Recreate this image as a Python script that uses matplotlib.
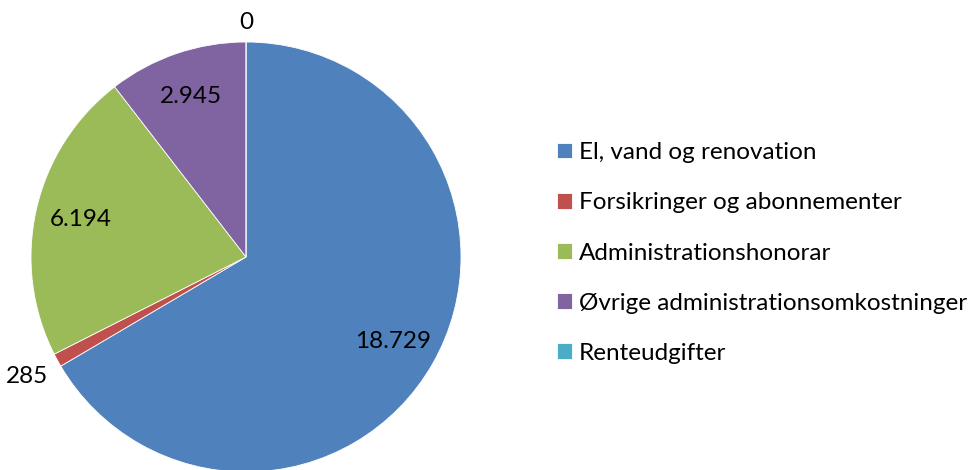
import numpy as np
import matplotlib.pyplot as plt

categories = ["El, vand og renovation", "Forsikringer og abonnementer",
              "Administrationshonorar", "Øvrige administrationsomkostninger",
              "Renteudgifter"]
values = [18729, 285, 6194, 2945, 0]
value_labels = ["18.729", "285", "6.194", "2.945", "0"]
colors = ["#4F81BD", "#C0504D", "#9BBB59", "#8064A2", "#4BACC6"]

plt.rcParams["font.family"] = ["Lato", "DejaVu Sans"]
fs = 17.5

fig = plt.figure(figsize=(9.79, 4.70), dpi=100)
ax = fig.add_axes([31 / 979, -2 / 470, 430 / 979, 430 / 470])

wedges, _ = ax.pie(values, colors=colors, startangle=90, counterclock=False,
                   radius=1.0, wedgeprops=dict(edgecolor="white", linewidth=0.6))
ax.set_xlim(-1, 1)
ax.set_ylim(-1, 1)
ax.set_aspect("equal")

# data labels: inside for big slices, outside for small ones
for w, lab, v in zip(wedges, value_labels, values):
    mid = np.deg2rad((w.theta1 + w.theta2) / 2)
    if v / sum(values) > 0.05:
        r = 0.79
    elif v == 0:
        r = 1.09
    else:
        r = 1.16
    ax.text(r * np.cos(mid), r * np.sin(mid), lab, ha="center", va="center",
            fontsize=fs, clip_on=False)

fig.legend(wedges, categories, loc="center left", bbox_to_anchor=(557 / 979, 1 - 253 / 470),
           frameon=False, fontsize=fs, handlelength=0.62, handleheight=0.62,
           handletextpad=0.28, labelspacing=1.2, borderpad=0, borderaxespad=0)

fig.savefig("out.png", dpi=100)
